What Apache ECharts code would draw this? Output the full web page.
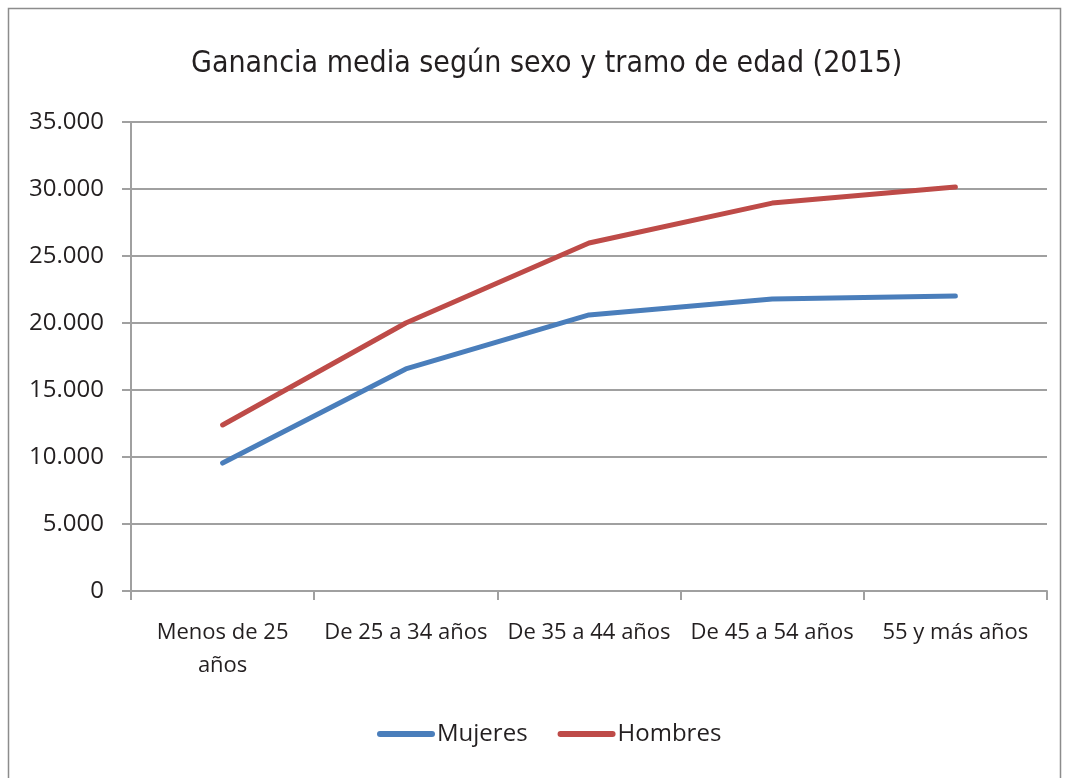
<!DOCTYPE html>
<html>
<head>
    <meta charset="utf-8">
    <title>Ganancia media</title>
    <script src="https://cdn.jsdelivr.net/npm/echarts@6/dist/echarts.min.js"></script>
    <style>
        * { margin: 0; padding: 0; }
        html, body { background: #fff; }
        #main { width: 1065px; height: 778px; }
    </style>
</head>
<body>
<div id="main"></div>
<script>
    var categorias = ['Menos de 25 años', 'De 25 a 34 años', 'De 35 a 44 años', 'De 45 a 54 años', '55 y más años'];
    var mujeres = [9550, 16570, 20600, 21790, 22010];
    var hombres = [12390, 20000, 25970, 28950, 30150];

    var fuente = '"Open Sans", sans-serif';
    var gris = '#a0a0a0';

    var chart = echarts.init(document.getElementById('main'));
    var option = {
        animation: false,
        backgroundColor: '#fff',
        color: ['#4a7ebb', '#be4b48'],
        title: {
            text: 'Ganancia media según sexo y tramo de edad (2015)',
            left: 186,
            top: 44,
            textStyle: {
                fontFamily: '"DejaVu Sans Condensed", sans-serif',
                fontWeight: 'normal',
                fontSize: 30,
                color: '#231f20'
            }
        },
        graphic: [{
            type: 'rect',
            shape: { x: 8.5, y: 8.5, width: 1052, height: 800 },
            style: { fill: 'none', stroke: '#8c8c8c', lineWidth: 1.5 },
            silent: true
        }],
        legend: {
            bottom: 27,
            left: 372,
            itemWidth: 58,
            itemHeight: 6,
            itemGap: 30,
            icon: 'path://M3,0 L55,0 A3,3 0 0 1 55,6 L3,6 A3,3 0 0 1 3,0 Z',
            textStyle: { fontFamily: fuente, fontSize: 24, color: '#231f20', padding: [0, 0, 0, -3] }
        },
        grid: {
            left: 131,
            right: 18,
            top: 122,
            bottom: 187
        },
        xAxis: {
            type: 'category',
            data: categorias,
            boundaryGap: true,
            axisLine: { lineStyle: { color: gris, width: 2 } },
            axisTick: { show: true, length: 9, lineStyle: { color: gris, width: 2 } },
            axisLabel: {
                margin: 25,
                interval: 0,
                fontFamily: fuente,
                fontSize: 22,
                lineHeight: 33,
                color: '#231f20',
                formatter: function (v) {
                    return v === 'Menos de 25 años' ? 'Menos de 25\naños' : v;
                }
            }
        },
        yAxis: {
            type: 'value',
            min: 0,
            max: 35000,
            interval: 5000,
            axisLine: { show: true, lineStyle: { color: gris, width: 2 } },
            axisTick: { show: true, length: 9, lineStyle: { color: gris, width: 2 } },
            splitLine: { lineStyle: { color: gris, width: 2 } },
            axisLabel: {
                margin: 27,
                fontFamily: fuente,
                fontSize: 24,
                color: '#231f20',
                formatter: function (v) {
                    return v === 0 ? '0' : (v / 1000) + '.000';
                }
            }
        },
        series: [
            {
                name: 'Mujeres',
                type: 'line',
                data: mujeres,
                symbol: 'none',
                lineStyle: { width: 5, cap: 'round' }
            },
            {
                name: 'Hombres',
                type: 'line',
                data: hombres,
                symbol: 'none',
                lineStyle: { width: 5, cap: 'round' }
            }
        ]
    };
    chart.setOption(option);
</script>
</body>
</html>
